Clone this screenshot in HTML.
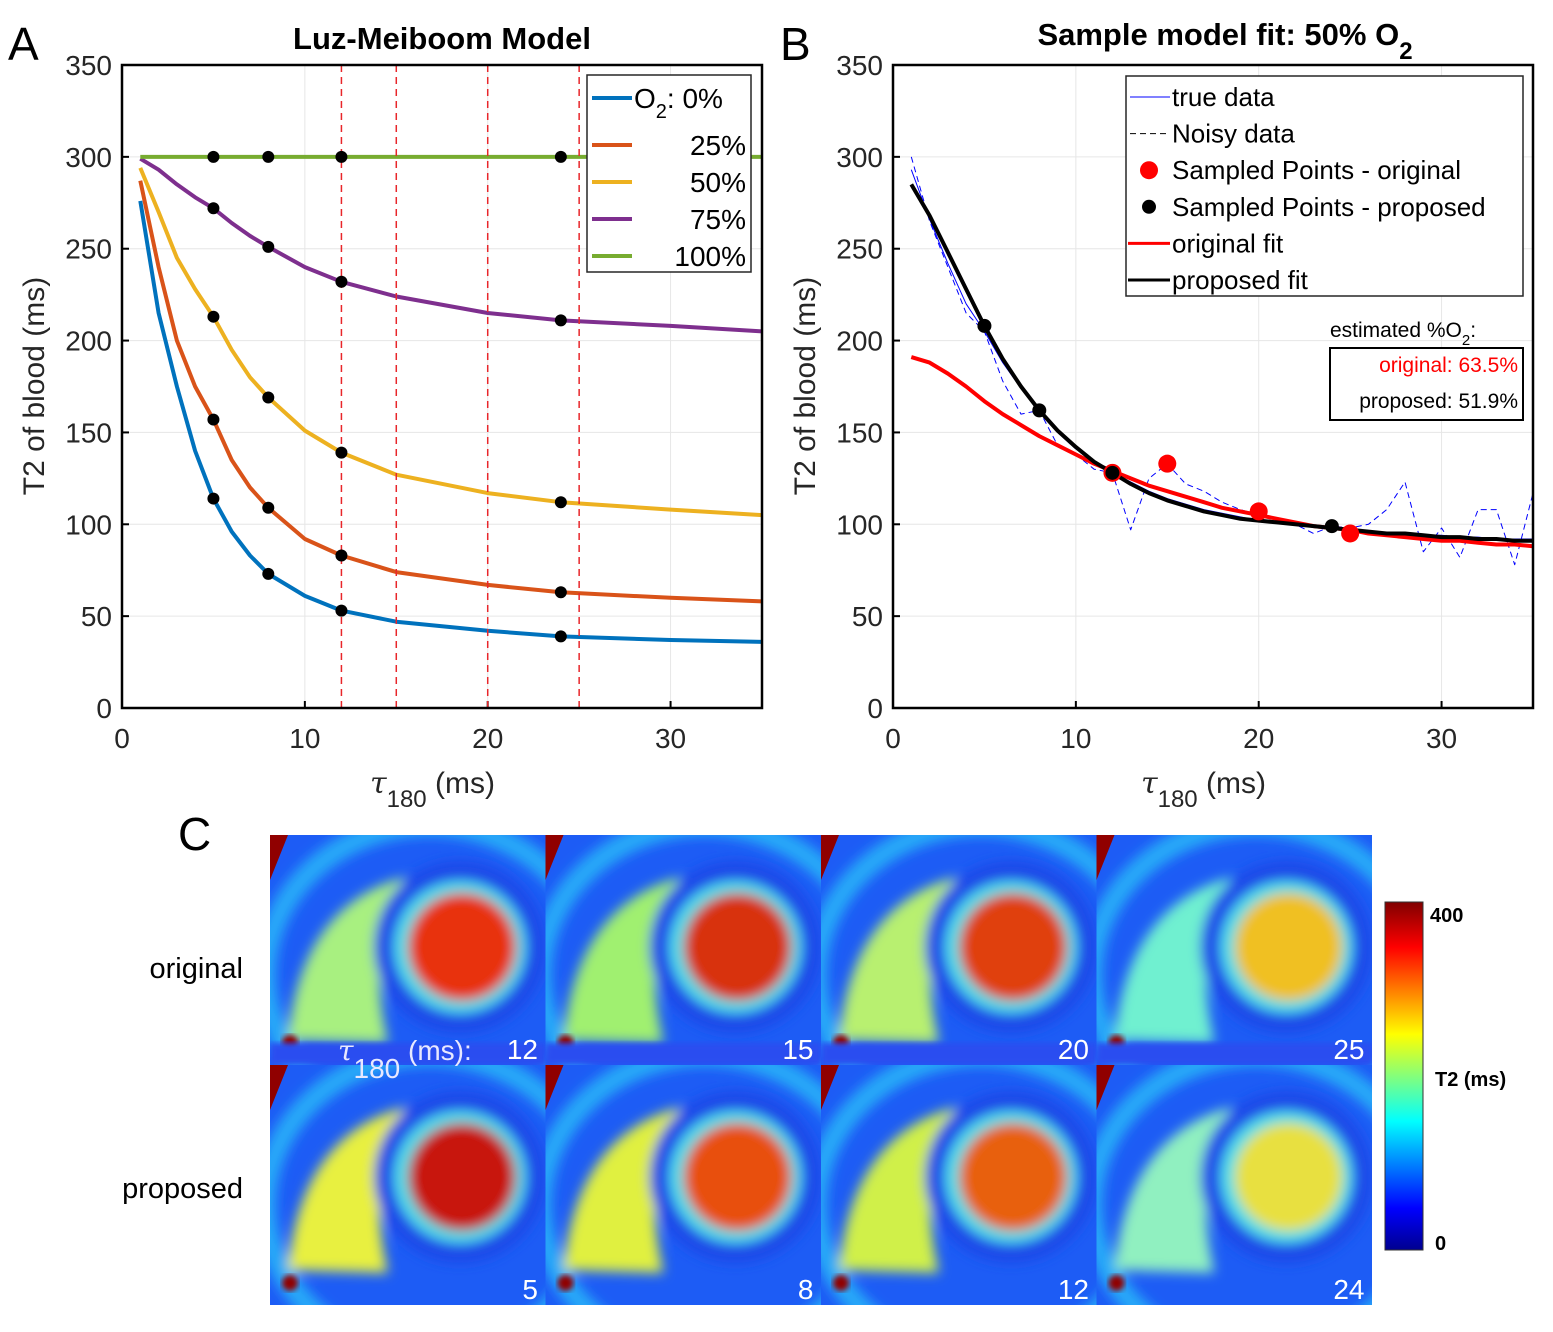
<!DOCTYPE html>
<html><head><meta charset="utf-8"><style>
body{margin:0;background:#fff;width:1553px;height:1327px;overflow:hidden;font-family:"Liberation Sans",sans-serif}
svg text{font-family:"Liberation Sans","DejaVu Sans",sans-serif}
</style></head><body>
<svg id="fig" width="1553" height="1327" xmlns="http://www.w3.org/2000/svg">
<defs>
<filter id="blur" x="-10%" y="-10%" width="120%" height="120%"><feGaussianBlur stdDeviation="6"/></filter>
<filter id="blur2"><feGaussianBlur stdDeviation="3"/></filter>
<linearGradient id="jet" x1="0" y1="1" x2="0" y2="0">
<stop offset="0" stop-color="#00008f"/><stop offset="0.12" stop-color="#0000ff"/><stop offset="0.37" stop-color="#00ffff"/><stop offset="0.62" stop-color="#ffff00"/><stop offset="0.87" stop-color="#ff0000"/><stop offset="1" stop-color="#800000"/>
</linearGradient>
</defs>
<g id="panelA"></g><g id="panelB"></g><g id="panelC"></g>
</svg>
<script>
const NS="http://www.w3.org/2000/svg";
function el(p,tag,attrs,txt){const e=document.createElementNS(NS,tag);for(const k in attrs)e.setAttribute(k,attrs[k]);if(txt!==undefined)e.textContent=txt;p.appendChild(e);return e;}

// ---- data panel A ----
const tauA=[1,2,3,4,5,6,7,8,10,12,15,20,24,30,35];
const o2Labels=["0%","25%","50%","75%","100%"];
const t2_0=[276,215,175,140,114,96,83,73,61,53,47,42,39,37,36];
const t2_25=[287,240,200,175,157,135,120,109,92,83,74,67,63,60,58];
const t2_50=[294,270,245,228,213,195,180,169,151,139,127,117,112,108,105];
const t2_75=[299,293,285,278,272,264,257,251,240,232,224,215,211,208,205];
const t2_100=[300,300,300,300,300,300,300,300,300,300,300,300,300,300,300];
const sampledTauA=[5,8,12,24];
const dashedTau=[12,15,20,25];
const xTicks=[0,10,20,30];
const yTicks=[0,50,100,150,200,250,300,350];
// ---- data panel B ----
const tauB=[1,2,3,4,5,6,7,8,9,10,11,12,13,14,15,16,17,18,19,20,21,22,23,24,25,26,27,28,29,30,31,32,33,34,35];
const noisy=[300,265,240,215,205,178,160,162,143,138,130,128,97,125,133,122,118,112,108,105,103,100,95,99,98,100,108,123,85,98,82,108,108,78,117];
const trueData=[293,266,242,220,205,188,174,162,150,141,134,128,123,118,114,111,108,106,104,102,101,100,99,98,97,96,95,95,94,94,93,93,92,92,92];
const origFit=[191,188,182,175,167,160,154,148,143,138,133,129,125,121,118,115,112,109,107,105,103,101,99,98,97,95,94,93,92,91,91,90,89,89,88];
const propFit=[285,268,248,228,208,190,175,162,151,142,134,128,122,117,113,110,107,105,103,102,101,100,99,98,97,96,95,95,94,93,93,92,92,91,91];
const redTau=[12,15,20,25], redVal=[128,133,107,95];
const blackTau=[5,8,12,24], blackVal=[208,162,128,99];

function axes(g,x0,name){
  const X=v=>x0+v*640/35, Y=v=>708-v*643/350;
  xTicks.forEach(t=>{const l=el(g,'line',{x1:X(t),x2:X(t),y1:65,y2:708,stroke:'#e6e6e6','stroke-width':1});});
  yTicks.forEach(t=>{const l=el(g,'line',{x1:x0,x2:x0+640,y1:Y(t),y2:Y(t),stroke:'#e6e6e6','stroke-width':1});});
  xTicks.forEach(t=>{const tx=el(g,'text',{x:X(t),y:748,'font-size':28,'text-anchor':'middle',fill:'#262626'},t);
    el(g,'line',{x1:X(t),x2:X(t),y1:708,y2:701,stroke:'#000','stroke-width':2});});
  yTicks.forEach(t=>{const tx=el(g,'text',{x:x0-10,y:Y(t)+10,'font-size':28,'text-anchor':'end',fill:'#262626'},t);
    el(g,'line',{x1:x0,x2:x0+7,y1:Y(t),y2:Y(t),stroke:'#000','stroke-width':2});});
  const yl=el(g,'text',{x:0,y:0,'font-size':30,'text-anchor':'middle',fill:'#262626',transform:`translate(${x0-78},386) rotate(-90)`},'T2 of blood (ms)');
  
  const xl=el(g,'text',{x:x0+320-72,y:793,'font-size':30,fill:'#262626'});
  
  el(xl,'tspan',{'font-style':'italic','font-family':'DejaVu Serif, serif'},'τ');
  el(xl,'tspan',{dy:14,'font-size':24},'180');
  el(xl,'tspan',{dy:-14},' (ms)');
  return {X,Y};
}
function path(g,xs,ys,X,Y,attrs,name){
  const d=xs.map((x,i)=>(i?'L':'M')+X(x).toFixed(1)+','+Y(ys[i]).toFixed(1)).join('');
  const p=el(g,'path',Object.assign({d,fill:'none','stroke-linejoin':'round'},attrs));return p;
}
function interp(xs,ys,x){for(let i=0;i<xs.length-1;i++){if(x>=xs[i]&&x<=xs[i+1]){const f=(x-xs[i])/(xs[i+1]-xs[i]);return ys[i]+f*(ys[i+1]-ys[i]);}}return ys[ys.length-1];}

// Panel A
(function(){
  const g=document.getElementById('panelA');
  const {X,Y}=axes(g,122,'A');
  const series=[t2_0,t2_25,t2_50,t2_75,t2_100];
  const cols=['#0072bd','#d95319','#edb120','#7e2f8e','#77ac30'];
  series.forEach((s,i)=>path(g,tauA,s,X,Y,{stroke:cols[i],'stroke-width':4},'curve-o2-'+o2Labels[i].replace('%','pct')));
  dashedTau.forEach(t=>{const l=el(g,'line',{x1:X(t),x2:X(t),y1:65,y2:708,stroke:'#e8262a','stroke-width':1.5,'stroke-dasharray':'7,5'});});
  series.forEach((s,i)=>sampledTauA.forEach(t=>{const c=el(g,'circle',{cx:X(t),cy:Y(interp(tauA,s,t)),r:6,fill:'#000'});}));
  el(g,'rect',{x:122,y:65,width:640,height:643,fill:'none',stroke:'#000','stroke-width':2.5});
  const t=el(g,'text',{x:442,y:49,'font-size':31,'font-weight':'bold','text-anchor':'middle',fill:'#000'},'Luz-Meiboom Model');
  const pl=el(g,'text',{x:8,y:60,'font-size':46,fill:'#000'},'A');
  const lg=el(g,'g',{});
  el(lg,'rect',{x:587,y:75,width:164,height:197,fill:'#fff',stroke:'#262626','stroke-width':1.5});
  const ly=[98,145,182,219,256];
  ly.forEach((yy,i)=>{el(lg,'line',{x1:592,x2:632,y1:yy,y2:yy,stroke:cols[i],'stroke-width':4});
    const tx=el(lg,'text',{x:i==0?634:746,y:yy+10,'font-size':28,'text-anchor':i==0?'start':'end',fill:'#000'});
    
    if(i==0){el(tx,'tspan',{},'O');el(tx,'tspan',{dy:10,'font-size':20},'2');el(tx,'tspan',{dy:-10},': 0%');}else tx.textContent=o2Labels[i];});
})();

// Panel B
(function(){
  const g=document.getElementById('panelB');
  const {X,Y}=axes(g,893,'B');
  path(g,tauB,trueData,X,Y,{stroke:'#0000ff','stroke-width':1},'true-data-line');
  path(g,tauB,noisy,X,Y,{stroke:'#0000ff','stroke-width':1,'stroke-dasharray':'6,4'},'noisy-data-line');
  path(g,tauB,origFit,X,Y,{stroke:'#ff0000','stroke-width':4},'original-fit-line');
  path(g,tauB,propFit,X,Y,{stroke:'#000','stroke-width':4},'proposed-fit-line');
  redTau.forEach((t,i)=>{const c=el(g,'circle',{cx:X(t),cy:Y(redVal[i]),r:9,fill:'#ff0000'});});
  blackTau.forEach((t,i)=>{const c=el(g,'circle',{cx:X(t),cy:Y(blackVal[i]),r:7,fill:'#000'});});
  el(g,'rect',{x:893,y:65,width:640,height:643,fill:'none',stroke:'#000','stroke-width':2.5});
  const t=el(g,'text',{x:1225,y:45,'font-size':31,'font-weight':'bold','text-anchor':'middle',fill:'#000'});
  el(t,'tspan',{},'Sample model fit: 50% O');el(t,'tspan',{dy:14,'font-size':24},'2');
  const pl=el(g,'text',{x:780,y:60,'font-size':46,fill:'#000'},'B');
  const lg=el(g,'g',{});
  el(lg,'rect',{x:1126,y:76,width:397,height:220,fill:'#fff',stroke:'#262626','stroke-width':1.5});
  const labels=['true data','Noisy data','Sampled Points - original','Sampled Points - proposed','original fit','proposed fit'];
  labels.forEach((s,i)=>{const yy=97+i*36.6;
    if(i==0)el(lg,'line',{x1:1130,x2:1170,y1:yy,y2:yy,stroke:'#0000ff','stroke-width':1});
    if(i==1)el(lg,'line',{x1:1130,x2:1170,y1:yy,y2:yy,stroke:'#000','stroke-width':1,'stroke-dasharray':'6,4'});
    if(i==2)el(lg,'circle',{cx:1149,cy:yy,r:9,fill:'#ff0000'});
    if(i==3)el(lg,'circle',{cx:1149,cy:yy,r:7,fill:'#000'});
    if(i==4)el(lg,'line',{x1:1128,x2:1170,y1:yy,y2:yy,stroke:'#ff0000','stroke-width':3});
    if(i==5)el(lg,'line',{x1:1128,x2:1170,y1:yy,y2:yy,stroke:'#000','stroke-width':3});
    const tx=el(lg,'text',{x:1172,y:yy+9,'font-size':26,fill:'#000'},s);});
  const an=el(g,'text',{x:1330,y:337,'font-size':21,fill:'#000'});
  el(an,'tspan',{},'estimated %O');el(an,'tspan',{dy:8,'font-size':15},'2');el(an,'tspan',{dy:-8},':');
  el(g,'rect',{x:1330,y:348,width:193,height:72,fill:'#fff',stroke:'#000','stroke-width':2});
  const a1=el(g,'text',{x:1518,y:372,'font-size':21,'text-anchor':'end',fill:'#ff0000'},'original: 63.5%');
  const a2=el(g,'text',{x:1518,y:408,'font-size':21,'text-anchor':'end',fill:'#000'},'proposed: 51.9%');
})();

// Panel C
(function(){
  const g=document.getElementById('panelC');
  const pl=el(g,'text',{x:178,y:850,'font-size':46,fill:'#000'},'C');
  const r1=el(g,'text',{x:243,y:978,'font-size':29,'text-anchor':'end',fill:'#000'},'original');
  const r2=el(g,'text',{x:243,y:1198,'font-size':29,'text-anchor':'end',fill:'#000'},'proposed');
  const labs=[['12','15','20','25'],['5','8','12','24']];
  const bloodCol=[['#e83010','#d83010','#e04010','#f0c020'],['#c81808','#e85010','#e86010','#e8e040']];
  const rvCol=[['#a8f080','#a0f070','#b8f070','#70f0d0'],['#e8f040','#e0f040','#d0f048','#90f0c0']];
  const rows=[[835,230],[1065,240]];
  rows.forEach(([y0,h],r)=>{for(let c=0;c<4;c++){const x0=270+c*275.5;
    const tg=el(g,'g',{});
    const cp=el(tg,'clipPath',{id:'cp'+r+c});el(cp,'rect',{x:x0,y:y0,width:275.5,height:h});
    const inner=el(tg,'g',{'clip-path':`url(#cp${r}${c})`});
    el(inner,'rect',{x:x0,y:y0,width:276,height:h,fill:'#1d5cf5'});
    const b=el(inner,'g',{filter:'url(#blur)'});
    el(b,'ellipse',{cx:x0+160,cy:y0+140,rx:165,ry:150,fill:'none',stroke:'#28a8f8','stroke-width':22});
    el(b,'path',{d:`M${x0+18},${y0+205} Q${x0+30},${y0+70} ${x0+135},${y0+42} Q${x0+95},${y0+110} ${x0+118},${y0+208} Z`,fill:rvCol[r][c]});
    el(b,'circle',{cx:x0+190,cy:y0+112,r:86,fill:'#1a48e8'});
    el(b,'circle',{cx:x0+190,cy:y0+112,r:66,fill:'#50e0e8'});
    el(b,'circle',{cx:x0+192,cy:y0+112,r:54,fill:bloodCol[r][c]});
    el(inner,'path',{d:`M${x0},${y0} L${x0+18},${y0} L${x0},${y0+45} Z`,fill:'#900000'});
    el(inner,'circle',{cx:x0+20,cy:y0+h-22,r:8,fill:'#900000',filter:'url(#blur2)'});
    if(r==0)el(inner,'rect',{x:x0,y:y0+h-22,width:276,height:22,fill:'#2a4ef0',filter:'url(#blur2)'});
    const n=el(tg,'text',{x:x0+268,y:y0+h-6,'font-size':28,'text-anchor':'end',fill:'#fff'},labs[r][c]);
  }});
  const tl=el(g,'text',{x:338,y:1060,'font-size':28,fill:'#e8e8ff'});
  el(tl,'tspan',{'font-style':'italic','font-family':'DejaVu Serif, serif'},'τ');el(tl,'tspan',{dy:18},'180');el(tl,'tspan',{dy:-18},' (ms):');
  const cb=el(g,'rect',{x:1385,y:902,width:38,height:348,fill:'url(#jet)',stroke:'#333','stroke-width':1});
  const c1=el(g,'text',{x:1430,y:922,'font-size':20,'font-weight':'bold',fill:'#000'},'400');
  const c2=el(g,'text',{x:1435,y:1250,'font-size':20,'font-weight':'bold',fill:'#000'},'0');
  const c3=el(g,'text',{x:1435,y:1086,'font-size':20,'font-weight':'bold',fill:'#000'},'T2 (ms)');
})();
</script>
</body></html>
